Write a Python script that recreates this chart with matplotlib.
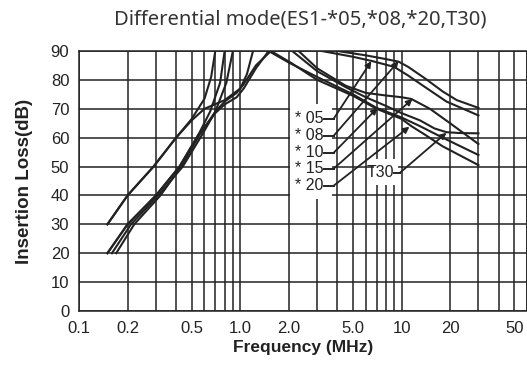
import numpy as np
import matplotlib
matplotlib.use("Agg")
import matplotlib.pyplot as plt
from matplotlib.patches import Rectangle

# curves (MHz, dB); nan splits the part above 90 dB
curves = {
    "*08": ([0.15, 0.2, 0.29, 0.4, 0.5, 0.6, 0.66, 0.7, np.nan,
             4.0, 6, 8, 9.6, 11, 14, 18, 22, 30],
            [30, 40, 50, 60, 66.5, 73.5, 81, 90, np.nan,
             90, 88.5, 87.2, 86.3, 84.5, 80.5, 76, 73, 70.3]),
    "*05": ([0.15, 0.2, 0.3, 0.42, 0.55, 0.65, 0.75, 0.8, np.nan,
             3.2, 5, 6.6, 9, 11, 14, 19, 30],
            [20, 30, 40, 50, 61, 69, 79, 90, np.nan,
             90, 88, 86.5, 84.5, 81.5, 77.5, 72.5, 67.7]),
    "T30": ([0.16, 0.21, 0.31, 0.44, 0.58, 0.7, 0.82, 0.9, np.nan,
             2.1, 3, 4.5, 6, 8, 10, 13, 16, 19, 23, 30],
            [20, 30, 40, 50, 61, 69, 79, 90, np.nan,
             90, 83, 77.5, 74, 71, 68.5, 66, 63.2, 61.9, 61.6, 61.5]),
    "*15": ([0.15, 0.2, 0.29, 0.4, 0.5, 0.6, 0.8, 1.0, 1.1, 1.2, np.nan,
             2.3, 3, 4.5, 6, 8, 10, 11.5, 15, 20, 30],
            [30, 40, 50, 60, 66, 70, 73, 77, 82, 90, np.nan,
             90, 84, 78, 75.5, 74.6, 74, 73.4, 70, 65, 57.8]),
    "*10": ([0.15, 0.2, 0.3, 0.42, 0.55, 0.7, 0.8, 0.95, 1.05, 1.25, 1.5,
             2, 3, 5, 7, 10, 13, 18, 30],
            [20, 30, 40, 50, 61, 68.5, 71.5, 74, 77, 84, 90,
             86, 81, 75, 70.3, 67, 64, 60, 54]),
    "*20": ([0.17, 0.22, 0.32, 0.43, 0.56, 0.7, 0.8, 0.95, 1.05, 1.25, 1.55,
             2.05, 3, 5, 7, 10, 11.5, 14, 18, 30],
            [20, 30, 40, 50, 61, 69, 72.5, 75.5, 78.5, 85, 90,
             86, 80, 74.5, 70, 66.5, 64, 61, 57, 50.5]),
}

# leader labels: name, label y (dB), arrow target (MHz, dB)
label_names = ["* 05", "* 08", "* 10", "* 15", "* 20"]
label_y = [66.6, 60.7, 54.8, 49.3, 43.4]
label_targets = [(6.5, 86.5), (9.6, 86.5), (7.1, 70.3), (11.7, 73.4), (11.2, 63.8)]
t30_y = 47.9
t30_target = (19, 61.7)

x_ticks = [0.1, 0.2, 0.5, 1.0, 2.0, 5.0, 10, 20, 50]
x_tick_labels = ["0.1", "0.2", "0.5", "1.0", "2.0", "5.0", "10", "20", "50"]
y_ticks = list(range(0, 91, 10))

grid_x = [d * m for d in (0.1, 1, 10) for m in range(1, 10)] + [60]

ink = "#222222"
fig = plt.figure(figsize=(5.27, 3.70), dpi=100)
ax = fig.add_axes([79 / 527, 1 - 311 / 370, 448 / 527, 260 / 370])
ax.set_xscale("log")
ax.set_xlim(0.1, 60)
ax.set_ylim(0, 90)

for gx in grid_x:
    ax.axvline(gx, color=ink, lw=1.1, zorder=1)
for gy in y_ticks:
    ax.axhline(gy, color=ink, lw=1.1, zorder=1)

# white patches behind the labels
ax.add_patch(Rectangle((2.04, 38.6), 3.72 - 2.04, 71.7 - 38.6, facecolor="white",
                       edgecolor="none", zorder=2))
ax.add_patch(Rectangle((6.75, 43.5), 9.55 - 6.75, 52.5 - 43.5, facecolor="white",
                       edgecolor="none", zorder=2))

for name, (fx, fy) in curves.items():
    ax.plot(fx, fy, color=ink, lw=1.5, zorder=3, solid_joinstyle="round")

lab_font = dict(family=["Liberation Sans", "DejaVu Sans"], fontsize=11.5, color=ink)
for name, ly, tgt in zip(label_names, label_y, label_targets):
    ax.text(3.3, ly, name, ha="right", va="center", zorder=4, **lab_font)
    ax.plot([3.3, 3.8], [ly, ly], color=ink, lw=1.4, zorder=4)
    ax.annotate("", xy=tgt, xytext=(3.8, ly), zorder=4,
                arrowprops=dict(arrowstyle="-|>", color=ink, lw=1.3,
                                shrinkA=0, shrinkB=0, mutation_scale=9))
ax.text(9.0, t30_y, "T30", ha="right", va="center", zorder=4, **lab_font)
ax.plot([9.0, 9.8], [t30_y, t30_y], color=ink, lw=1.4, zorder=4)
ax.annotate("", xy=t30_target, xytext=(9.8, t30_y), zorder=4,
            arrowprops=dict(arrowstyle="-|>", color=ink, lw=1.3,
                            shrinkA=0, shrinkB=0, mutation_scale=9))

ax.set_xticks(x_ticks)
ax.set_xticklabels(x_tick_labels)
ax.xaxis.set_minor_locator(matplotlib.ticker.NullLocator())
ax.set_yticks(y_ticks)
ax.tick_params(length=0, labelsize=12, pad=7, colors=ink)
for lab in ax.get_xticklabels() + ax.get_yticklabels():
    lab.set_family(["Liberation Sans", "DejaVu Sans"])
for s in ax.spines.values():
    s.set_color(ink)
    s.set_linewidth(1.1)
ax.spines["right"].set_visible(False)

ax.set_xlabel("Frequency (MHz)", fontsize=12.5, fontweight="bold",
              family=["Liberation Sans", "DejaVu Sans"], color=ink, labelpad=3)
ax.set_ylabel("Insertion Loss(dB)", fontsize=13.5, fontweight="bold",
              family=["Liberation Sans", "DejaVu Sans"], color=ink, labelpad=13)
fig.text(300 / 527, 1 - 19 / 370, "Differential mode(ES1-*05,*08,*20,T30)",
         ha="center", va="center", fontsize=14.5, color="#333333",
         family=["Noto Sans", "DejaVu Sans"])

fig.savefig("out.png", dpi=100)
